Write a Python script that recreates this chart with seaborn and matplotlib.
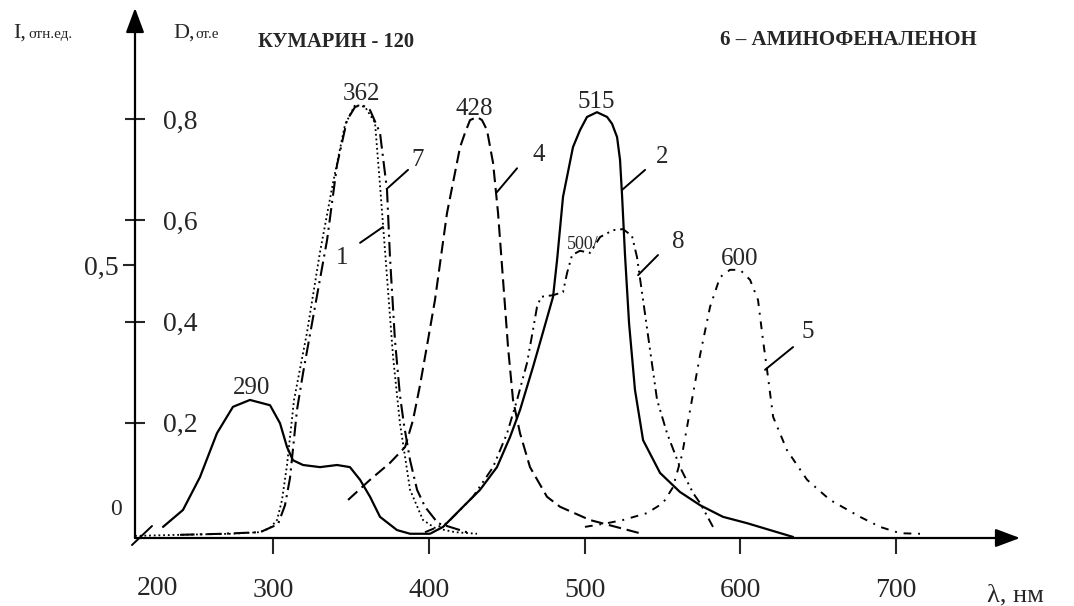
import matplotlib
matplotlib.use("Agg")
import matplotlib.pyplot as plt
import seaborn as sns
import numpy as np

# ---------------- data (wavelength, nm ; relative intensity) ----------------
lam_1 = [211.4, 240.3, 272.4, 291.7, 298.1, 302.6, 305.8, 309.0, 313.5, 321.8, 330.2, 338.5,
         346.2, 352.7, 359.1, 365.5, 368.7, 371.9, 377.1, 381.5, 388.0, 396.3, 404.0, 416.9, 431.0]
val_1 = [0.004, 0.006, 0.008, 0.011, 0.019, 0.034, 0.072, 0.138, 0.261, 0.388, 0.541, 0.671,
         0.781, 0.819, 0.815, 0.785, 0.667, 0.544, 0.342, 0.217, 0.091, 0.034, 0.019, 0.011, 0.008]

lam_2 = [229.4, 242.2, 253.1, 264.0, 274.3, 285.2, 298.1, 304.5, 309.0, 312.8, 319.3, 330.2,
         341.1, 349.4, 355.9, 362.3, 368.7, 379.6, 388.0, 400.8, 409.2, 422.0, 432.9, 443.8,
         452.2, 458.6, 466.9, 471.4, 479.8, 482.4, 486.2, 492.6, 497.1, 501.6, 508.0, 514.5,
         517.7, 520.9, 522.8, 524.1, 526.0, 528.6, 532.4, 537.6, 548.5, 561.3, 574.2, 588.9,
         604.4, 619.1, 633.9]
val_2 = [0.021, 0.053, 0.115, 0.198, 0.248, 0.261, 0.251, 0.217, 0.172, 0.147, 0.138, 0.134,
         0.138, 0.134, 0.110, 0.078, 0.040, 0.015, 0.008, 0.008, 0.021, 0.059, 0.091, 0.134,
         0.191, 0.242, 0.323, 0.369, 0.456, 0.526, 0.645, 0.739, 0.771, 0.796, 0.805, 0.796,
         0.783, 0.758, 0.715, 0.648, 0.535, 0.406, 0.280, 0.185, 0.123, 0.087, 0.062, 0.040,
         0.028, 0.015, 0.002]

lam_4 = [348.2, 362.3, 375.1, 384.8, 389.9, 394.4, 399.5, 404.0, 411.7, 420.1, 423.3, 426.5,
         431.0, 434.2, 437.4, 441.3, 444.5, 447.7, 450.9, 454.1, 458.6, 465.0, 475.9, 484.3,
         503.5, 535.6]
val_4 = [0.072, 0.110, 0.142, 0.172, 0.223, 0.289, 0.374, 0.450, 0.614, 0.739, 0.766, 0.790,
         0.796, 0.790, 0.771, 0.709, 0.614, 0.488, 0.361, 0.261, 0.198, 0.134, 0.078, 0.059,
         0.034, 0.009]

lam_5 = [500.3, 514.5, 524.7, 540.1, 550.4, 556.8, 562.6, 567.8, 574.2, 580.6, 587.0, 593.4,
         599.9, 606.3, 611.4, 614.6, 617.2, 621.1, 630.0, 642.9, 657.6, 676.9, 689.8, 702.6, 715.4]
val_5 = [0.021, 0.028, 0.034, 0.047, 0.066, 0.096, 0.157, 0.242, 0.346, 0.437, 0.493, 0.507,
         0.507, 0.488, 0.450, 0.374, 0.318, 0.229, 0.166, 0.110, 0.072, 0.040, 0.021, 0.009, 0.008]

lam_7 = [240.3, 267.9, 291.7, 303.2, 307.7, 310.9, 315.4, 319.3, 328.3, 334.7, 341.1, 347.5,
         352.7, 357.1, 362.3, 368.7, 373.2, 375.1, 378.3, 381.5, 384.1, 388.0, 392.5, 397.6,
         405.9, 426.5]
val_7 = [0.006, 0.008, 0.011, 0.026, 0.062, 0.113, 0.242, 0.312, 0.459, 0.563, 0.705, 0.790,
         0.815, 0.819, 0.809, 0.766, 0.658, 0.531, 0.374, 0.270, 0.214, 0.147, 0.091, 0.059,
         0.028, 0.009]

lam_8 = [397.6, 411.7, 428.4, 441.3, 450.3, 456.7, 463.1, 466.9, 469.5, 472.1, 479.8, 486.2,
         488.8, 492.0, 497.1, 503.5, 510.0, 518.3, 524.7, 530.5, 533.7, 537.6, 542.1, 546.6,
         553.0, 561.3, 569.7, 574.2, 582.5]
val_8 = [0.011, 0.028, 0.078, 0.134, 0.198, 0.261, 0.331, 0.393, 0.437, 0.456, 0.459, 0.465,
         0.501, 0.535, 0.543, 0.539, 0.569, 0.582, 0.584, 0.571, 0.531, 0.450, 0.355, 0.261,
         0.198, 0.134, 0.085, 0.066, 0.021]

x_ticks = [300, 400, 500, 600, 700]
x_tick_labels = ["300", "400", "500", "600", "700"]
x_first_label = "200"
d_ticks = [0.2, 0.4, 0.6, 0.8]
d_tick_labels = ["0,2", "0,4", "0,6", "0,8"]
i_ticks = [0.5]
i_tick_labels = ["0,5"]
peak_labels = ["290", "362", "428", "515", "500/", "600"]
curve_names = ["7", "1", "4", "2", "8", "5"]

# ---------------- layout ----------------
W, H = 1074, 606
sns.set_style("white")
plt.rcParams["font.family"] = ["Liberation Serif", "DejaVu Serif"]

fig = plt.figure(figsize=(W / 100, H / 100), dpi=100)
ax = fig.add_axes([135 / W, 1 - 538 / H, 885 / W, 530 / H])
ax.set_xlim(211.4, 779.6)
ax.set_ylim(0, 1.002)

lw = 1.5
styles = {
    "1": (lam_1, val_1, (0, (1, 1.6)), 1.3),
    "2": (lam_2, val_2, "-", 1.6),
    "4": (lam_4, val_4, (0, (6, 2.8)), lw),
    "5": (lam_5, val_5, (0, (4, 3.5, 1, 3.5)), 1.4),
    "7": (lam_7, val_7, (0, (7, 2.5, 1, 2.5)), lw),
    "8": (lam_8, val_8, (0, (5, 2.5, 1, 2.5, 1, 2.5)), 1.4),
}
for k, (xs, ys, ls, w) in styles.items():
    sns.lineplot(x=xs, y=ys, ax=ax, color="black", linestyle=ls, linewidth=w,
                 estimator=None, sort=False)

# axes as arrows
for s in ax.spines.values():
    s.set_visible(False)
arrow = dict(arrowstyle="-|>,head_length=0.75,head_width=0.28", color="black",
             lw=1.6, mutation_scale=20, shrinkA=0, shrinkB=0)
ax.annotate("", xy=(1, 0), xytext=(0, 0), xycoords="axes fraction", arrowprops=arrow)
ax.annotate("", xy=(0, 1), xytext=(0, 0), xycoords="axes fraction", arrowprops=arrow)
ax.plot([-0.0034, 0.0192], [-0.0132, 0.0226], color="black", lw=1.4,
        transform=ax.transAxes, clip_on=False)

# x ticks
ax.set_xticks(x_ticks, labels=x_tick_labels)
ax.tick_params(axis="x", direction="out", length=11.5, width=1.5, pad=17,
               labelsize=20, bottom=True)
ax.text(225.5, -0.071, x_first_label, fontsize=20, ha="center", va="top",
        transform=ax.get_xaxis_transform())

# D ticks (right side of the vertical axis)
def d_to_r(d):
    return (14 + 506 * np.asarray(d)) / 529

ax.set_yticks(d_to_r(d_ticks), labels=d_tick_labels)
ax.tick_params(axis="y", direction="inout", length=14.4, width=1.5, pad=-27.4,
               labelsize=20, left=True)
plt.setp(ax.get_yticklabels(), ha="left")

# I ticks (left side)
I_PER_R = 0.969
sec = ax.secondary_yaxis("left", functions=(lambda r: r * I_PER_R, lambda i: i / I_PER_R))
sec.set_yticks(i_ticks, labels=i_tick_labels)
sec.tick_params(direction="out", length=8.6, width=1.5, pad=3, labelsize=20)
sec.spines["left"].set_visible(False)

# peak labels
peak_pos = [(286.5, 0.284), (356.5, 0.839), (429.1, 0.811), (507.4, 0.824),
            (499.1, 0.554), (599.9, 0.527)]
for lab, (px, py) in zip(peak_labels, peak_pos):
    fs = 13 if lab == "500/" else 18
    ax.text(px, py, lab, fontsize=fs, ha="center", va="center")

# curve numbers with leader lines
name_pos = [(393.1, 0.715), (344.3, 0.529), (470.8, 0.724), (549.8, 0.720),
            (560.1, 0.560), (643.5, 0.389)]
leaders = [((373.8, 0.662), (386.7, 0.696)), ((370.6, 0.588), (355.9, 0.558)),
           ((443.8, 0.654), (456.7, 0.699)), ((524.1, 0.658), (538.9, 0.696)),
           ((534.4, 0.497), (547.2, 0.535)), ((615.9, 0.318), (633.9, 0.361))]
for lab, (tx, ty), (p0, p1) in zip(curve_names, name_pos, leaders):
    ax.text(tx, ty, lab, fontsize=18, ha="center", va="center")
    ax.plot([p0[0], p1[0]], [p0[1], p1[1]], color="black", lw=1.4)

# origin "0"
ax.text(-0.022, 0.053, "0", fontsize=17, ha="center", va="center", transform=ax.transAxes)

# axis titles and headings
fig.text(13 / W, 1 - 38 / H, "I,", fontsize=16, va="baseline")
fig.text(28 / W, 1 - 38 / H, "отн.ед.", fontsize=11, va="baseline")
fig.text(173 / W, 1 - 38 / H, "D,", fontsize=16, va="baseline")
fig.text(195 / W, 1 - 38 / H, "от.е", fontsize=11, va="baseline")
fig.text(258 / W, 1 - 47 / H, "КУМАРИН - 120", fontsize=14.8, fontweight="bold", va="baseline")
fig.text(720 / W, 1 - 45 / H, "6 – АМИНОФЕНАЛЕНОН", fontsize=15, fontweight="bold", va="baseline")
fig.text(987 / W, 1 - 601 / H, "λ, нм", fontsize=19, va="baseline")

fig.savefig("out.png", dpi=100)
